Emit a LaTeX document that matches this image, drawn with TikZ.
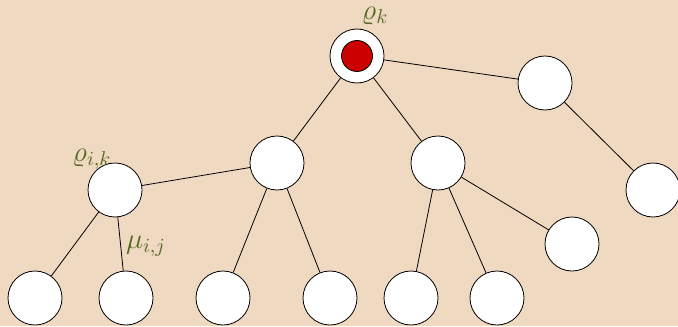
\documentclass[tikz,border=0pt]{standalone}
\usepackage{amsmath}
\usepackage{amssymb}
\usepackage{tikz}
\definecolor{bgtan}{RGB}{240,217,193}
\definecolor{lblgreen}{RGB}{82,104,32}
\definecolor{rootred}{RGB}{204,0,0}

\begin{document}
\begin{tikzpicture}[x=0.5pt,y=-0.5pt, vertex/.style = {draw,circle,fill=white,minimum size=27pt,inner sep=0pt}, lbl/.style = {text=lblgreen,font=\Large,inner sep=0pt}]
        \fill[bgtan] (0,0) rectangle (678,326);
        \useasboundingbox (0,0) rectangle (678,326);

        \node[vertex] (root) at (357,56)  {};
        \node[draw,circle,fill=rootred,minimum size=15.5pt,inner sep=0pt] (core) at (root) {};
        \node[vertex] (right) at (545,83)  {};
        \node[vertex] (rr) at (653,190)  {};
        \node[vertex] (a) at (277,163)  {};
        \node[vertex] (b) at (438,163)  {};
        \node[vertex] (l) at (115,190)  {};
        \node[vertex] (l1) at (35,298)  {};
        \node[vertex] (l2) at (126,298)  {};
        \node[vertex] (a1) at (223,298)  {};
        \node[vertex] (a2) at (330,298)  {};
        \node[vertex] (b1) at (411,298)  {};
        \node[vertex] (b2) at (497,298)  {};
        \node[vertex] (b3) at (572,244)  {};

        \node[lbl] (rhok) at (375,16) {$\varrho_k$};
        \node[lbl] (rhoik) at (92,159) {$\varrho_{i,k}$};
        \node[lbl] (muij) at (146,246) {$\mu_{i,j}$};

        \path[draw]
        (root)
        edge (right)
        edge (a)
        edge (b)
        (right)
        edge (rr)
        (a)
        edge (l)
        edge (a1)
        edge (a2)
        (b)
        edge (b1)
        edge (b2)
        edge (b3)
        (l)
        edge (l1)
        edge (l2)
        ;
    \end{tikzpicture}
\end{document}
